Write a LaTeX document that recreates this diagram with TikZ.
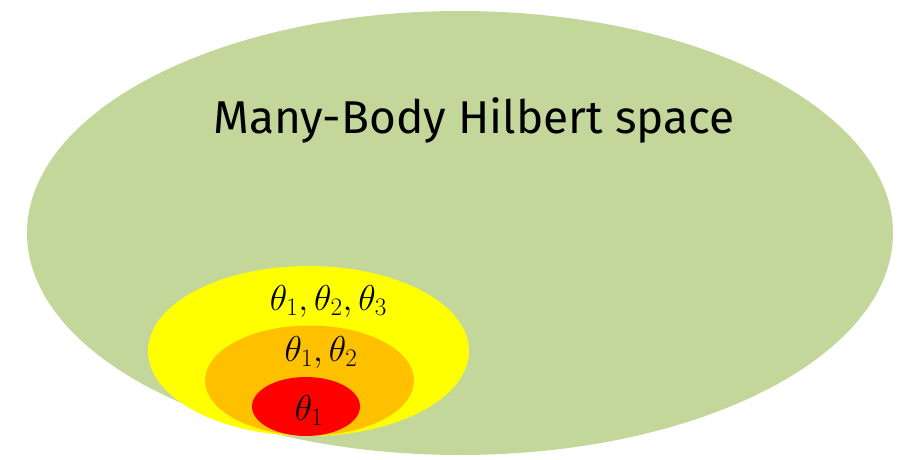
\documentclass[tikz,border=0pt]{standalone}
\usepackage{fix-cm}
\usepackage{fontspec}
\setmainfont{Fira Sans}
\usepackage{tikz}
\usetikzlibrary{positioning, shapes.geometric}
\definecolor{hilbert}{HTML}{C4D79B}
\definecolor{sunny}{HTML}{FFFF00}
\definecolor{amber}{HTML}{FFC000}
\definecolor{hot}{HTML}{FF0000}
\tikzset{
  region/.style = {ellipse, draw=none, inner sep=0pt},
  title/.style  = {font=\fontsize{46}{50}\selectfont, inner sep=0pt, anchor=base},
  lbl/.style    = {font=\fontsize{36}{38}\selectfont, inner sep=0pt, anchor=base},
}

\begin{document}
\begin{tikzpicture}[x=1pt, y=-1pt]
  \useasboundingbox (0,0) rectangle (904,459);

  % ----- full space -----
  \node[region, fill=hilbert, minimum width=866pt, minimum height=444pt] (hs) at (460,233) {};
  \node[title] (hstext) at (474,133) {Many-Body Hilbert space};

  % ----- nested parameter regions -----
  \node[region, fill=sunny, minimum width=321pt, minimum height=170pt] (r3) at (308.5,351) {};
  \node[region, fill=amber, minimum width=209pt, minimum height=110pt] (r2) at (309.5,380.5) {};
  \node[region, fill=hot, minimum width=108pt, minimum height=59pt] (r1) at (306,406.5) {};

  \node[lbl] (l3) at (328.5,310) {$\theta_1,\theta_2,\theta_3$};
  \node[lbl] (l2) at (321,361) {$\theta_1,\theta_2$};
  \node[lbl] (l1) at (309,420) {$\theta_1$};

\end{tikzpicture}
\end{document}
